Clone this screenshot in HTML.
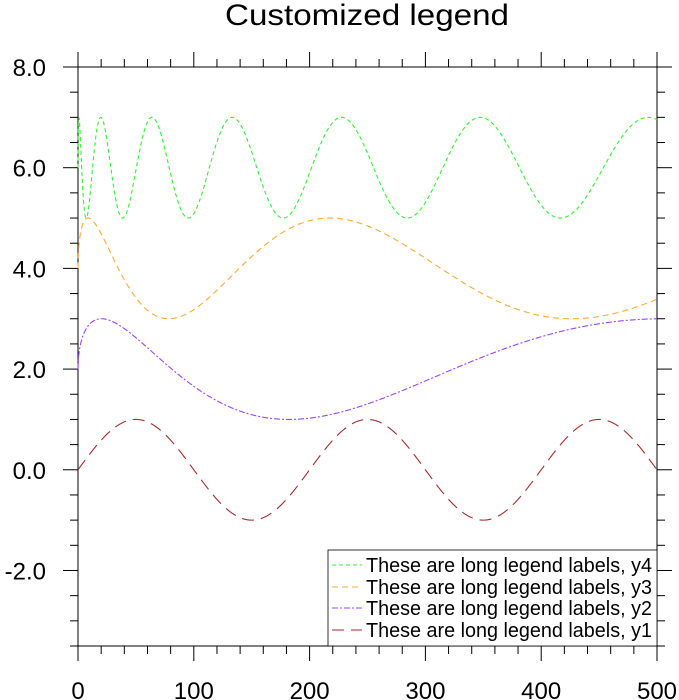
<!DOCTYPE html>
<html><head><meta charset="utf-8"><style>
html,body{margin:0;padding:0;background:#fff;}
svg{display:block;font-family:"Liberation Sans",sans-serif;}
</style></head><body>
<svg id="s" width="679" height="700" xmlns="http://www.w3.org/2000/svg">
<text x="367" y="25" font-size="30" text-anchor="middle" textLength="284" lengthAdjust="spacingAndGlyphs">Customized legend</text>
<g id="ax" stroke="#000" stroke-width="1" fill="none"></g>
<g id="lab" font-size="24" fill="#000"></g>
<g id="ser" fill="none" stroke-width="1.1"></g>
<rect x="328" y="550" width="329" height="96" fill="#fff" stroke="#000" stroke-width="0.8"/>
<g font-size="20" fill="#000">
<line x1="332" y1="565" x2="362" y2="565" stroke="#33ee33" stroke-dasharray="4,3"/>
<text x="366" y="572" textLength="286" lengthAdjust="spacingAndGlyphs">These are long legend labels, y4</text>
<line x1="332" y1="587" x2="362" y2="587" stroke="#ffaa33" stroke-dasharray="6,4"/>
<text x="366" y="594" textLength="286" lengthAdjust="spacingAndGlyphs">These are long legend labels, y3</text>
<line x1="332" y1="608" x2="362" y2="608" stroke="#a040ff" stroke-dasharray="6,2,2,2"/>
<text x="366" y="615" textLength="286" lengthAdjust="spacingAndGlyphs">These are long legend labels, y2</text>
<line x1="332" y1="630" x2="362" y2="630" stroke="#a52a2a" stroke-dasharray="12,7"/>
<text x="366" y="637" textLength="286" lengthAdjust="spacingAndGlyphs">These are long legend labels, y1</text>
</g>
</svg>
<script>
var L=78,R=657,T=67,B=646,NS="http://www.w3.org/2000/svg";
function X(v){return L+(R-L)*v/500}
function Y(v){return T+(8-v)*(B-T)/11.5}
function el(p,t,a,txt){var e=document.createElementNS(NS,t);for(var k in a)e.setAttribute(k,a[k]);if(txt!=null)e.textContent=txt;p.appendChild(e);return e}
var ax=document.getElementById('ax'),lab=document.getElementById('lab'),ser=document.getElementById('ser');
el(ax,'rect',{x:L,y:T,width:R-L,height:B-T});
for(var v=0;v<=500;v+=20){var maj=v%100==0,len=maj?15:8,x=X(v);
el(ax,'line',{x1:x,y1:B,x2:x,y2:B+len});el(ax,'line',{x1:x,y1:T,x2:x,y2:T-len});
if(maj)el(lab,'text',{x:x,y:699,'text-anchor':'middle'},String(v));}
for(var v=-3.5;v<=8.001;v+=0.5){var maj=Math.abs(v/2-Math.round(v/2))<1e-6,len=maj?15:8,y=Y(v);
el(ax,'line',{x1:L-len,y1:y,x2:L,y2:y});el(ax,'line',{x1:R,y1:y,x2:R+len,y2:y});
if(maj)el(lab,'text',{x:L-32,y:y+9,'text-anchor':'end'},v.toFixed(1));}
var fs=[[function(x){return Math.sin(2*Math.PI*x/200)},'#a52a2a','12,7'],
[function(x){return 2+Math.sin(Math.PI/9*Math.sqrt(x))},'#a040ff','6,2,2,2'],
[function(x){return 4+Math.sin(Math.PI/5.9*Math.sqrt(x))},'#ffaa33','6,4'],
[function(x){return 6+Math.sin(2*Math.PI/3.55*Math.sqrt(x))},'#33ee33','4,3']];
fs.forEach(function(f){var d='';for(var i=0;i<=2000;i++){var x=i*0.25;d+=(i?'L':'M')+X(x).toFixed(2)+' '+Y(f[0](x)).toFixed(2);}
el(ser,'path',{d:d,stroke:f[1],'stroke-dasharray':f[2]});});
</script>
</body></html>
